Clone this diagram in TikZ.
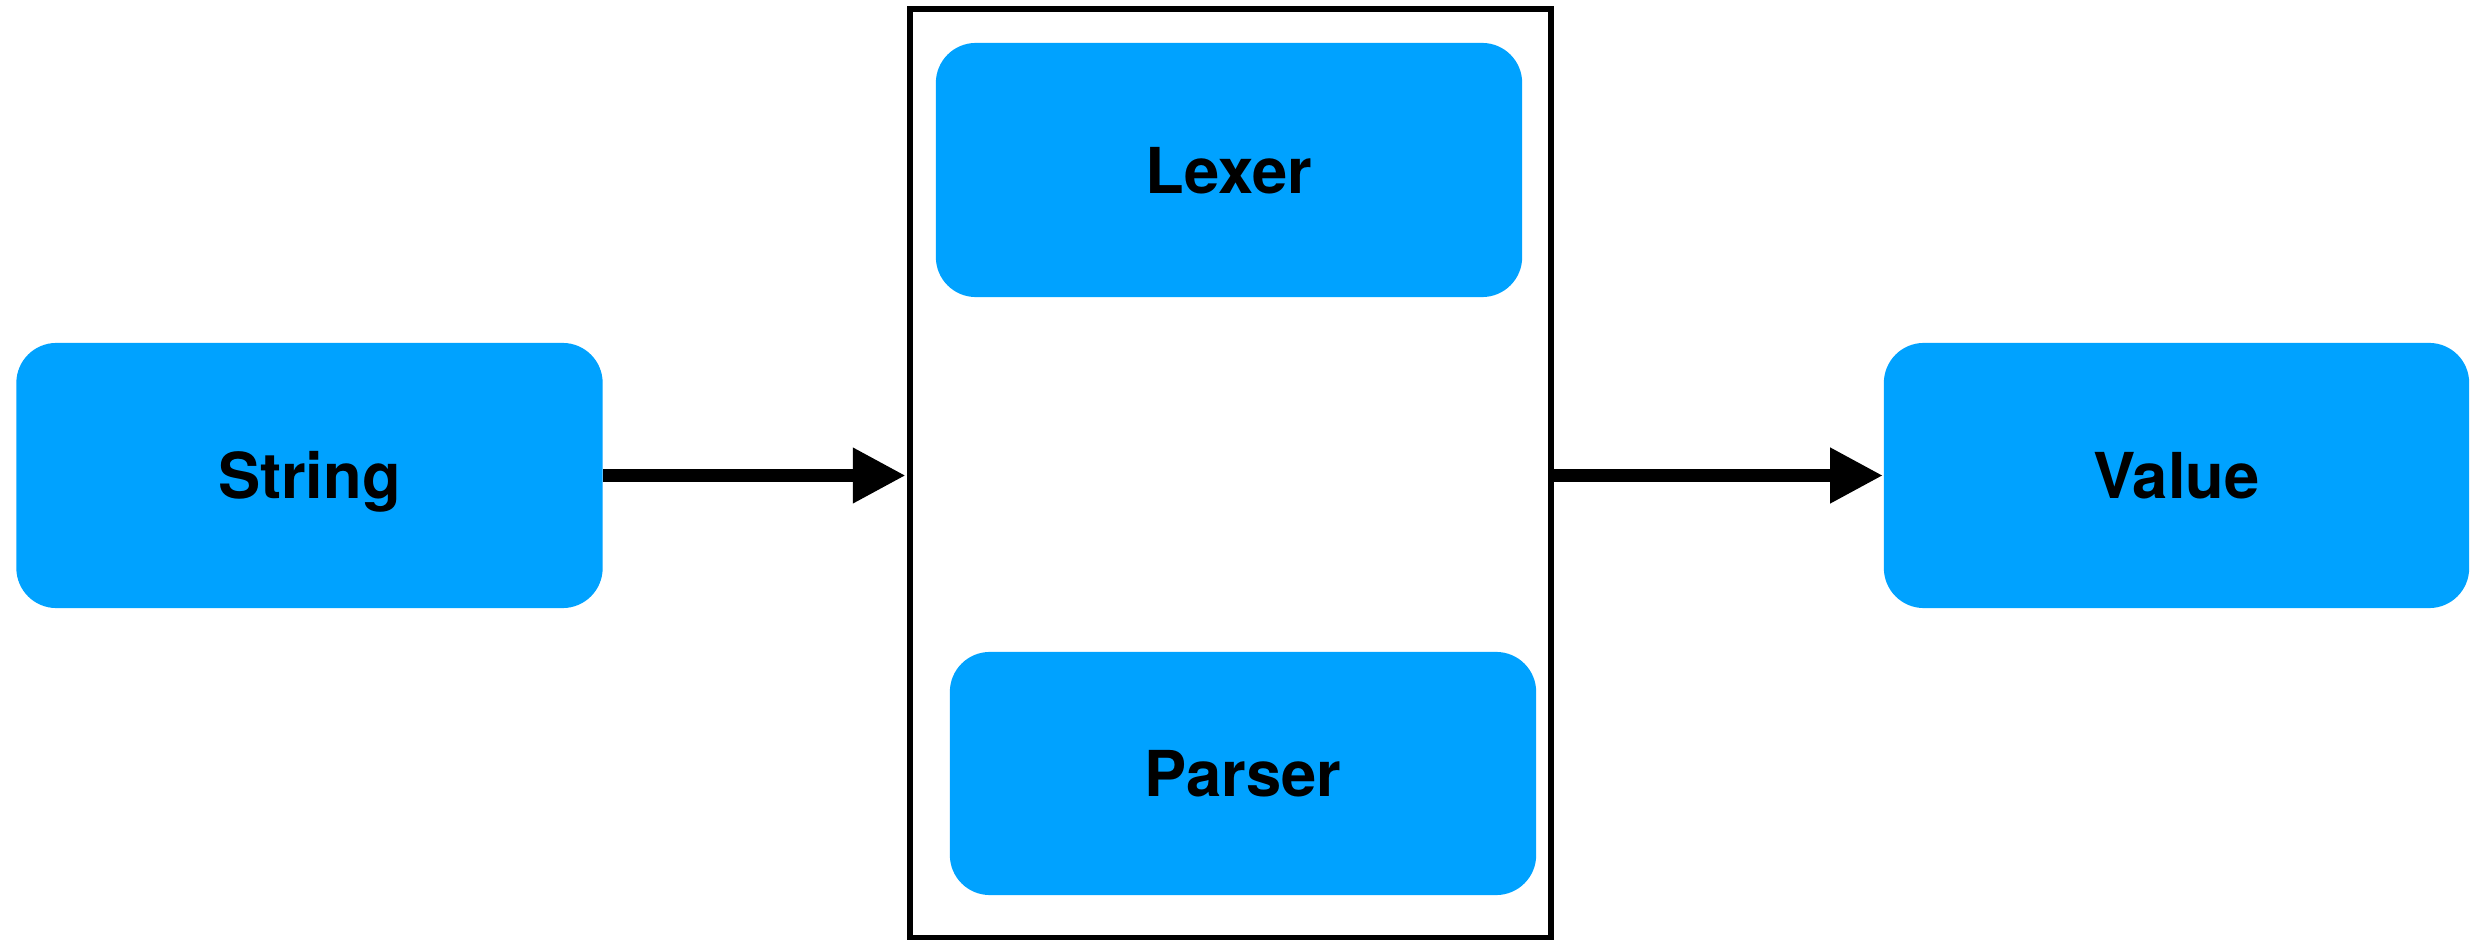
\documentclass[tikz,border=0pt]{standalone}
\usepackage{fontspec}
\setmainfont{TeX Gyre Heros}
\usetikzlibrary{arrows.meta}

\definecolor{stageblue}{RGB}{0,162,255}

\begin{document}
\begin{tikzpicture}[x=0.01cm,y=-0.01cm,
    stagebox/.style={fill=stageblue, rounded corners=0.4cm, inner sep=0pt,
      minimum width=5.86cm, minimum height=2.65cm,
      font=\fontsize{18}{20}\selectfont\bfseries,
      text height=0.46cm, text depth=0pt},
    pipeline/.style={draw, line width=0.055cm, inner sep=0pt, outer sep=0pt,
      minimum width=6.41cm, minimum height=9.28cm},
    flow/.style={line width=0.134cm, -{Triangle[length=0.53cm,width=0.52cm]}}]
    \useasboundingbox (0,0) rectangle (2484,940);

    \node[pipeline] (frame) at (1230.5,473.5) {};
    \node[stagebox] (string) at (309.5,475.5) {String};
    \node[stagebox, minimum height=2.54cm] (lexer) at (1229,170) {Lexer};
    \node[stagebox, minimum height=2.43cm] (parser) at (1243,773.5) {Parser};
    \node[stagebox, minimum width=5.85cm] (value) at (2176.5,475.5) {Value};

    \draw[flow, shorten >=0.04cm] (string.east) -- (string.east -| frame.west);
    \draw[flow] (value.west -| frame.east) -- (value.west);
\end{tikzpicture}
\end{document}
